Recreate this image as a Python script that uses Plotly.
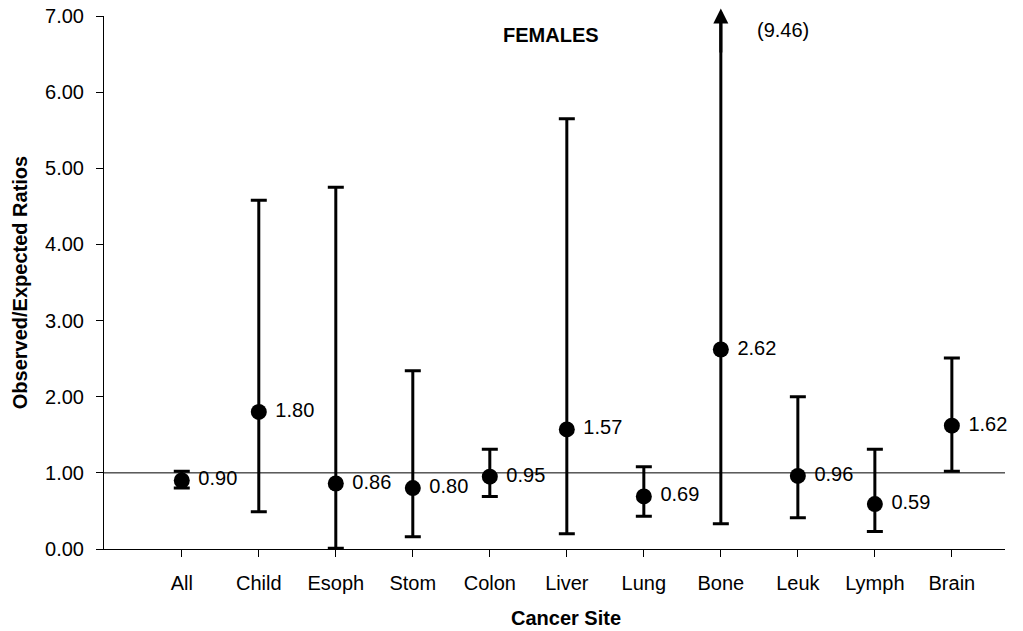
import plotly.graph_objects as go

categories = ["All", "Child", "Esoph", "Stom", "Colon", "Liver", "Lung", "Bone", "Leuk", "Lymph", "Brain"]
ratios = [0.90, 1.80, 0.86, 0.80, 0.95, 1.57, 0.69, 2.62, 0.96, 0.59, 1.62]
upper_ci = [1.02, 4.58, 4.75, 2.34, 1.31, 5.65, 1.08, 9.46, 2.00, 1.31, 2.51]
lower_ci = [0.80, 0.49, 0.01, 0.16, 0.69, 0.20, 0.43, 0.33, 0.41, 0.23, 1.02]
ytick_vals = [0, 1, 2, 3, 4, 5, 6, 7]
ytick_text = ["0.00", "1.00", "2.00", "3.00", "4.00", "5.00", "6.00", "7.00"]
reference_ratio = 1.0
bone_upper_label = "(9.46)"

FONT = "Liberation Sans, Arial, sans-serif"
FS = 20
xs = list(range(len(categories)))
err_plus = [u - r for u, r in zip(upper_ci, ratios)]
err_minus = [r - l for r, l in zip(ratios, lower_ci)]

fig = go.Figure()

fig.add_shape(type="line", xref="x", yref="y", x0=-1.01, x1=10.69,
              y0=reference_ratio, y1=reference_ratio,
              line=dict(color="black", width=1), layer="below")

fig.add_trace(go.Scatter(
    x=xs, y=ratios, mode="markers",
    marker=dict(color="black", size=16),
    error_y=dict(type="data", symmetric=False, array=err_plus, arrayminus=err_minus,
                 color="black", thickness=3, width=8),
    cliponaxis=True, showlegend=False, hoverinfo="skip",
))
fig.add_trace(go.Scatter(
    x=xs, y=ratios, mode="markers+text",
    marker=dict(color="rgba(0,0,0,0)", size=16),
    text=[" " + f"{v:.2f}" for v in ratios],
    textposition="middle right",
    textfont=dict(family=FONT, size=FS, color="black"),
    cliponaxis=False, showlegend=False, hoverinfo="skip",
))

bone_i = categories.index("Bone")
fig.add_annotation(x=bone_i, y=7.1, xref="x", yref="y", ax=bone_i, ay=6.5,
                   axref="x", ayref="y", showarrow=True, arrowhead=2,
                   arrowsize=1, arrowwidth=3, arrowcolor="black", text="")
fig.add_annotation(x=bone_i + 0.81, y=6.82, xref="x", yref="y", text=bone_upper_label,
                   showarrow=False, font=dict(family=FONT, size=FS, color="black"))
fig.add_annotation(x=4.79, y=6.75, xref="x", yref="y", text="<b>FEMALES</b>",
                   showarrow=False, font=dict(family=FONT, size=FS, color="black"))
fig.add_annotation(x=(566 - 104) / (1005 - 104), y=-0.129, xref="paper", yref="paper",
                   xanchor="center", yanchor="middle", text="<b>Cancer Site</b>",
                   showarrow=False, font=dict(family=FONT, size=FS, color="black"))

fig.update_layout(
    width=1023, height=631,
    margin=dict(l=104, r=18, t=16, b=82),
    paper_bgcolor="white", plot_bgcolor="white",
    font=dict(family=FONT, size=FS, color="black"),
)
fig.update_xaxes(
    range=[-1.01, 10.69], tickvals=xs, ticktext=categories, automargin=False,
    showline=True, linecolor="black", linewidth=1, showgrid=False, zeroline=False,
    ticks="outside", ticklen=7, tickcolor="black", tickwidth=1, ticklabelstandoff=9,
    tickfont=dict(family=FONT, size=FS, color="black"),
)
fig.update_yaxes(
    range=[0, 7], tickvals=ytick_vals, ticktext=ytick_text, automargin=False,
    showline=True, linecolor="black", linewidth=1, showgrid=False, zeroline=False,
    ticks="outside", ticklen=7, tickcolor="black", tickwidth=1, ticklabelstandoff=8,
    tickfont=dict(family=FONT, size=FS, color="black"),
    title=dict(text="<b>Observed/Expected Ratios</b>", font=dict(family=FONT, size=FS, color="black"), standoff=12),
)

fig.write_html("out.html")
